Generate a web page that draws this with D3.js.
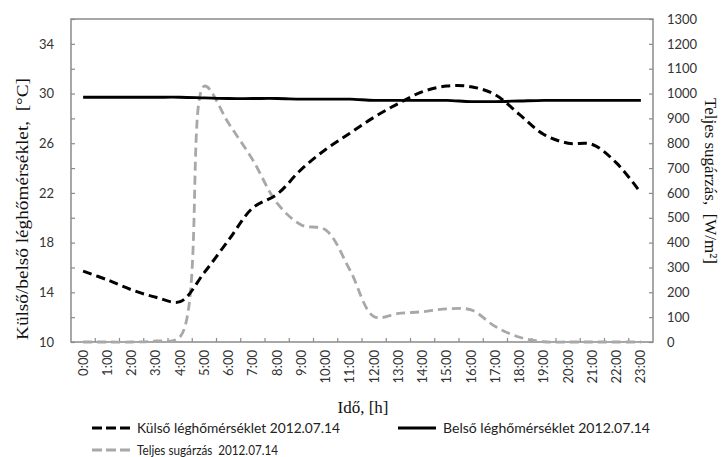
<!DOCTYPE html>
<html>
<head>
<meta charset="utf-8">
<script src="https://cdn.jsdelivr.net/npm/d3@7"></script>
<style>
  html, body { margin: 0; padding: 0; background: #fff; }
  svg { display: block; }
  text.keep-space { white-space: pre; }
</style>
</head>
<body>
<svg id="chart" width="721" height="457"></svg>
<script>
// Hourly readings for 2012.07.14
const hours = ["0:00","1:00","2:00","3:00","4:00","5:00","6:00","7:00","8:00","9:00","10:00","11:00",
               "12:00","13:00","14:00","15:00","16:00","17:00","18:00","19:00","20:00","21:00","22:00","23:00"];

// Outside air temperature [°C]
const outsideTemp = [15.7, 15.0, 14.2, 13.6, 13.25, 15.6, 18.2, 20.8, 21.9, 23.9, 25.5, 26.8,
                     28.1, 29.2, 30.15, 30.6, 30.55, 29.9, 28.3, 26.7, 26.0, 25.9, 24.4, 22.0];

// Inside air temperature [°C]
const insideTemp = [29.7, 29.7, 29.7, 29.7, 29.7, 29.65, 29.6, 29.6, 29.6, 29.55, 29.55, 29.55,
                    29.45, 29.45, 29.45, 29.45, 29.35, 29.35, 29.4, 29.45, 29.45, 29.45, 29.45, 29.45];

// Total solar radiation [W/m²]
const radiation = [0, 0, 0, 4, 21, 1030, 880, 732, 559, 471, 451, 290,
                   102, 115, 122, 133, 129, 62, 19, 1, 0, 0, 0, 0];

// Axis ticks
const tempTicks = d3.range(10, 37, 2);
const tempLabels = [10, 14, 18, 22, 26, 30, 34];
const radTicks = d3.range(0, 1301, 100);

const svg = d3.select("#chart");
const plotLeft = 71, plotRight = 653, plotTop = 19, plotBottom = 342;

const x = d3.scaleBand().domain(hours).range([plotLeft, plotRight]).paddingInner(0).paddingOuter(0);
const cx = d => x(d) + x.bandwidth() / 2;
const yT = d3.scaleLinear().domain([10, 36]).range([plotBottom, plotTop]);
const yR = d3.scaleLinear().domain([0, 1300]).range([plotBottom, plotTop]);

const tickFont = "Lato, 'Open Sans', sans-serif";
const serif = "'Liberation Serif', 'DejaVu Serif', serif";
const frameColor = "#8a8a8a";
const labelColor = "#333";

// Left axis (temperature)
const gL = svg.append("g").attr("transform", `translate(${plotLeft},0)`)
  .call(d3.axisLeft(yT).tickValues(tempTicks).tickSize(-4).tickPadding(17)
        .tickFormat(v => tempLabels.includes(v) ? v : ""));
gL.select(".domain").remove();
gL.selectAll(".tick line").attr("stroke", frameColor).attr("stroke-width", 1.2);
gL.selectAll(".tick text").attr("font-family", tickFont).attr("font-size", 13).attr("fill", labelColor);

// Right axis (radiation)
const gR = svg.append("g").attr("transform", `translate(${plotRight},0)`)
  .call(d3.axisRight(yR).tickValues(radTicks).tickSize(-4).tickPadding(14).tickFormat(d3.format("d")));
gR.select(".domain").remove();
gR.selectAll(".tick line").attr("stroke", frameColor).attr("stroke-width", 1.2);
gR.selectAll(".tick text").attr("font-family", tickFont).attr("font-size", 13).attr("fill", labelColor);

// Bottom axis: labels at hour centres, tick marks on the hour boundaries
const gB = svg.append("g").attr("transform", `translate(0,${plotBottom})`)
  .call(d3.axisBottom(x).tickSize(0).tickPadding(0));
gB.select(".domain").remove();
gB.selectAll(".tick text")
  .attr("font-family", tickFont).attr("font-size", 13).attr("fill", labelColor)
  .attr("y", 0).attr("x", -8).attr("dy", "0.35em")
  .attr("transform", "rotate(-90)")
  .style("text-anchor", "end");

svg.append("g").selectAll("line")
  .data(d3.range(1, hours.length))
  .join("line")
  .attr("x1", i => x(hours[i])).attr("x2", i => x(hours[i]))
  .attr("y1", plotBottom).attr("y2", plotBottom - 4)
  .attr("stroke", frameColor).attr("stroke-width", 1.2);

// Plot frame
svg.append("rect")
  .attr("x", plotLeft).attr("y", plotTop)
  .attr("width", plotRight - plotLeft).attr("height", plotBottom - plotTop)
  .attr("fill", "none").attr("stroke", frameColor).attr("stroke-width", 1.5);

// Series lines
const curve = d3.curveCatmullRom.alpha(0.5);
const lineT = d3.line().x((d, i) => cx(hours[i])).y(d => yT(d)).curve(curve);
const lineR = d3.line().x((d, i) => cx(hours[i])).y(d => yR(d)).curve(curve);

svg.append("path").datum(radiation)
  .attr("d", lineR).attr("fill", "none")
  .attr("stroke", "#a8a8a8").attr("stroke-width", 2.8).attr("stroke-dasharray", "9,5");

svg.append("path").datum(insideTemp)
  .attr("d", lineT).attr("fill", "none")
  .attr("stroke", "#000").attr("stroke-width", 2.8);

svg.append("path").datum(outsideTemp)
  .attr("d", lineT).attr("fill", "none")
  .attr("stroke", "#000").attr("stroke-width", 3).attr("stroke-dasharray", "9,5");

// Axis titles
svg.append("text")
  .attr("class", "keep-space")
  .attr("transform", "translate(22,209) rotate(-90)")
  .attr("dy", "0.35em")
  .attr("text-anchor", "middle")
  .attr("font-family", serif).attr("font-size", 17).attr("fill", "#111")
  .attr("textLength", 262).attr("lengthAdjust", "spacingAndGlyphs")
  .text("Külső/belső léghőmérséklet,  [°C]");

svg.append("text")
  .attr("class", "keep-space")
  .attr("transform", "translate(711,181) rotate(90)")
  .attr("dy", "0.35em")
  .attr("text-anchor", "middle")
  .attr("font-family", serif).attr("font-size", 17).attr("fill", "#111")
  .attr("textLength", 166).attr("lengthAdjust", "spacingAndGlyphs")
  .text("Teljes sugárzás,  [W/m²]");

svg.append("text")
  .attr("x", 363).attr("y", 413)
  .attr("text-anchor", "middle")
  .attr("font-family", serif).attr("font-size", 17).attr("fill", "#111")
  .text("Idő, [h]");

// Legend
const legendItems = [
  { label: "Külső léghőmérséklet 2012.07.14", color: "#000", dash: "10,4", x: 92, y: 428, len: 203 },
  { label: "Belső léghőmérséklet 2012.07.14", color: "#000", dash: null, x: 398, y: 428, len: 207 },
  { label: "Teljes sugárzás  2012.07.14", color: "#a8a8a8", dash: "10,4", x: 92, y: 450, len: 141 }
];
const lg = svg.append("g").selectAll("g").data(legendItems).join("g");
lg.append("line")
  .attr("x1", d => d.x).attr("x2", d => d.x + 38)
  .attr("y1", d => d.y).attr("y2", d => d.y)
  .attr("stroke", d => d.color).attr("stroke-width", 3)
  .attr("stroke-dasharray", d => d.dash);
lg.append("text")
  .attr("class", "keep-space")
  .attr("x", d => d.x + 45).attr("y", d => d.y).attr("dy", "0.35em")
  .attr("font-family", tickFont).attr("font-size", 13).attr("fill", "#222")
  .attr("textLength", d => d.len).attr("lengthAdjust", "spacingAndGlyphs")
  .text(d => d.label);
</script>
</body>
</html>
